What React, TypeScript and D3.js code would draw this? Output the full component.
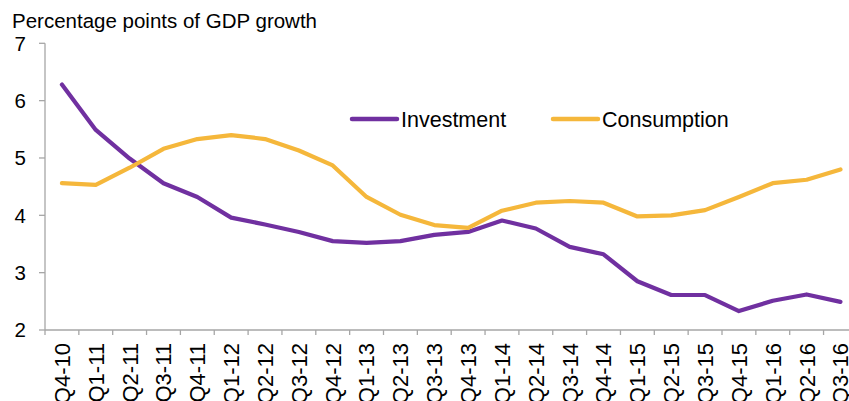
import React from "react";
import * as d3 from "d3";

const categories = [
  "Q4-10", "Q1-11", "Q2-11", "Q3-11", "Q4-11", "Q1-12", "Q2-12", "Q3-12", "Q4-12",
  "Q1-13", "Q2-13", "Q3-13", "Q4-13", "Q1-14", "Q2-14", "Q3-14", "Q4-14",
  "Q1-15", "Q2-15", "Q3-15", "Q4-15", "Q1-16", "Q2-16", "Q3-16",
];
const investment = [
  6.28, 5.49, 4.99, 4.56, 4.32, 3.96, 3.84, 3.71, 3.55, 3.52, 3.55, 3.66,
  3.71, 3.91, 3.77, 3.45, 3.32, 2.85, 2.61, 2.61, 2.33, 2.51, 2.62, 2.49,
];
const consumption = [
  4.56, 4.53, 4.83, 5.16, 5.33, 5.40, 5.33, 5.13, 4.87, 4.32, 4.01, 3.83,
  3.78, 4.08, 4.22, 4.25, 4.22, 3.98, 4.00, 4.09, 4.32, 4.56, 4.62, 4.80,
];
const yTicks = [2, 3, 4, 5, 6, 7];
const seriesNames = ["Investment", "Consumption"];
const seriesColors = ["#7030a0", "#f5b73b"];

export default function App() {
  const W = 849, H = 401;
  const left = 45, right = 857.4, top = 43.3, bottom = 330;
  const x = d3.scaleBand<string>().domain(categories).range([left, right]);
  const y = d3.scaleLinear().domain([2, 7]).range([bottom, top]);
  const line = d3
    .line<number>()
    .x((_, i) => (x(categories[i]) as number) + x.bandwidth() / 2)
    .y((v) => y(v));
  const font = "'Liberation Sans', Arial, sans-serif";
  const axisColor = "#a6a6a6";
  const series = [investment, consumption];
  const legendX = [352, 553];
  const legendY = 119;

  return (
    <svg width={W} height={H} style={{ position: "absolute", left: 0, top: 0 }} fontFamily={font}>
      <text x={12} y={28} fontSize={20.5} fill="#000">Percentage points of GDP growth</text>
      {/* y axis */}
      <line x1={left} x2={left} y1={top} y2={bottom} stroke={axisColor} strokeWidth={1.3} />
      {yTicks.map((t) => (
        <g key={t}>
          <line x1={left - 6} x2={left} y1={y(t)} y2={y(t)} stroke={axisColor} strokeWidth={1.3} />
          <text x={26} y={y(t)} dy="0.36em" textAnchor="end" fontSize={20.5} fill="#000">{t}</text>
        </g>
      ))}
      {/* x axis */}
      <line x1={left} x2={right} y1={bottom} y2={bottom} stroke={axisColor} strokeWidth={1.3} />
      {categories.map((c, i) => (
        <line key={"t" + c} x1={left + i * x.bandwidth()} x2={left + i * x.bandwidth()} y1={bottom} y2={bottom + 5} stroke={axisColor} strokeWidth={1.3} />
      ))}
      {categories.map((c) => {
        const cx = (x(c) as number) + x.bandwidth() / 2;
        const cy = 343;
        return (
          <text key={c} x={cx} y={cy} transform={`rotate(-90 ${cx} ${cy})`} dy="0.36em" textAnchor="end" fontSize={22} fill="#000">{c}</text>
        );
      })}
      {series.map((s, i) => (
        <path key={i} d={line(s) as string} fill="none" stroke={seriesColors[i]} strokeWidth={4.2} strokeLinejoin="round" strokeLinecap="round" />
      ))}
      {seriesNames.map((n, i) => (
        <g key={n}>
          <line x1={legendX[i]} x2={legendX[i] + 45} y1={legendY} y2={legendY} stroke={seriesColors[i]} strokeWidth={4.5} strokeLinecap="round" />
          <text x={legendX[i] + 49} y={legendY} dy="0.36em" fontSize={21.5} fill="#000">{n}</text>
        </g>
      ))}
    </svg>
  );
}
